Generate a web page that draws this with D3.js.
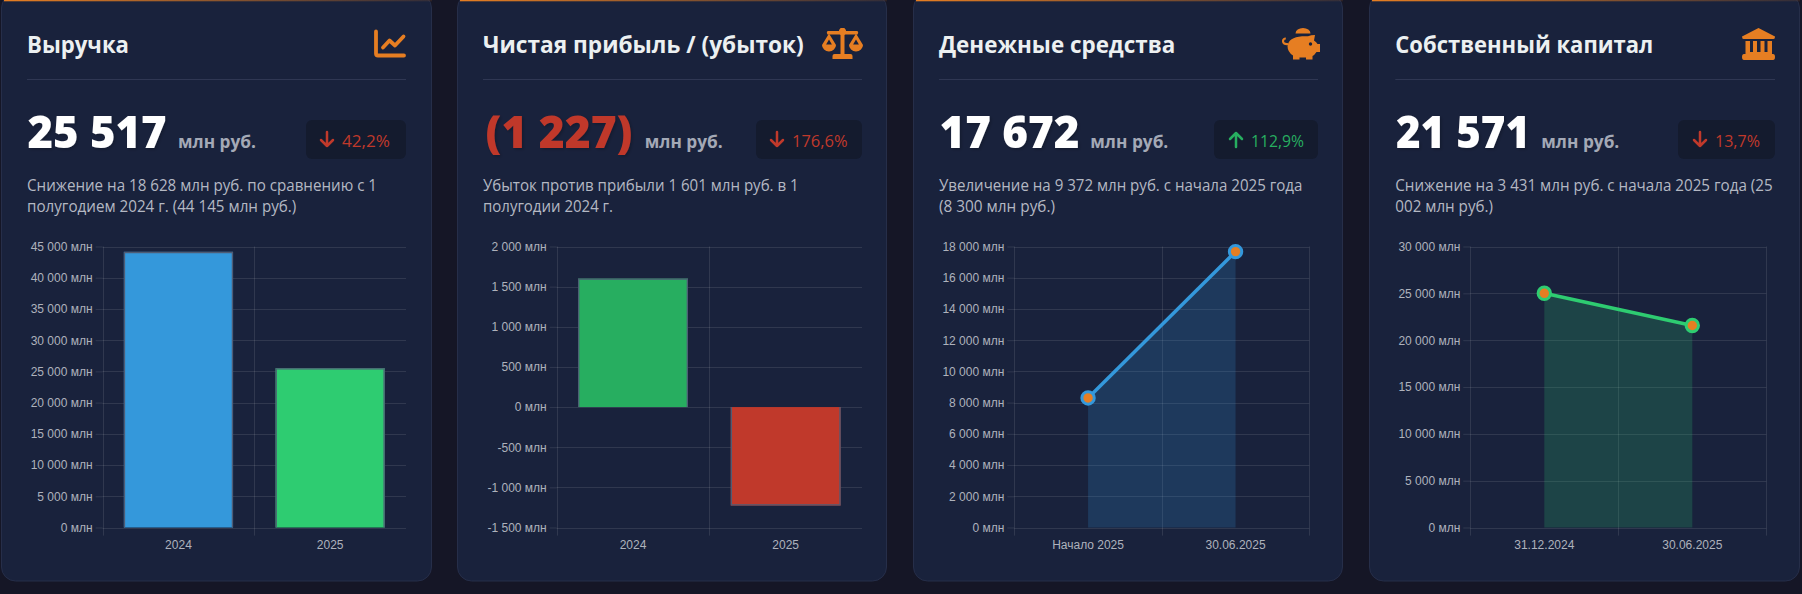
<!DOCTYPE html>
<html><head><meta charset="utf-8">
<script src="https://cdn.jsdelivr.net/npm/d3@7/dist/d3.min.js"></script>
<style>
html,body{margin:0;padding:0;background:#151626;overflow:hidden}
svg{display:block}
text{font-family:"Open Sans",sans-serif}
.axis text{font-family:"Liberation Sans",Arial,sans-serif;font-size:12px;fill:#aeb2bc;-webkit-text-stroke:.35px #aeb2bc}
</style></head><body><svg id="c" width="1802" height="594"></svg>
<script>
const titles=["Выручка","Чистая прибыль / (убыток)","Денежные средства","Собственный капитал"];
const bigValues=["25 517","(1 227)","17 672","21 571"];
const changes=["42,2%","176,6%","112,9%","13,7%"];
const directions=["down","down","up","down"];
const descLines=[
 ["Снижение на 18 628 млн руб. по сравнению с 1","полугодием 2024 г. (44 145 млн руб.)"],
 ["Убыток против прибыли 1 601 млн руб. в 1","полугодии 2024 г."],
 ["Увеличение на 9 372 млн руб. с начала 2025 года","(8 300 млн руб.)"],
 ["Снижение на 3 431 млн руб. с начала 2025 года (25","002 млн руб.)"]];
const revenueLabels=["2024","2025"], revenueValues=[44145,25517];
const profitLabels=["2024","2025"], profitValues=[1601,-1227];
const cashLabels=["Начало 2025","30.06.2025"], cashValues=[8300,17672];
const equityLabels=["31.12.2024","30.06.2025"], equityValues=[25002,21571];
const revenueTicks=d3.range(0,45001,5000), profitTicks=d3.range(-1500,2001,500);
const cashTicks=d3.range(0,18001,2000), equityTicks=d3.range(0,30001,5000);

const ORANGE="#e67e22",RED="#c0392b",GREEN="#27ae60",BRIGHT="#2ecc71",BLUE="#3498db",CARD="#19223c";
const fmt=v=>(v<0?"-":"")+String(Math.abs(v)).replace(/\B(?=(\d{3})+$)/g," ")+" млн";
const svg=d3.select("#c");
const defs=svg.append("defs");
const grad=defs.append("linearGradient").attr("id","tb");
grad.append("stop").attr("offset",0).attr("stop-color",ORANGE);
grad.append("stop").attr("offset",1).attr("stop-color",ORANGE).attr("stop-opacity",.12);
const f=defs.append("filter").attr("id","sh").attr("x","-10%").attr("y","-10%").attr("width","120%").attr("height","130%");
f.append("feDropShadow").attr("dx",1.5).attr("dy",1.5).attr("stdDeviation",1.5).attr("flood-color","#000").attr("flood-opacity",.22);

const cards=[
 {x:1,w:431,tx:27,tr:406,titleW:102,valX:27.5,valW:139,valColor:"#fff",unitX:178,badgeX:306,arrowDx:21,chgW:48,descW:[350,269.3],ax:[102.6,406],type:"bar",labels:revenueLabels,values:revenueValues,ticks:revenueTicks,dom:[0,45000],colors:[BLUE,BRIGHT],rightGrid:false},
 {x:457,w:430,tx:483,tr:862,titleW:320.7,valX:485.5,valW:147,valColor:RED,unitX:644.7,badgeX:756,arrowDx:21,chgW:55.6,descW:[315.7,130],ax:[556.7,862],type:"bar",labels:profitLabels,values:profitValues,ticks:profitTicks,dom:[-1500,2000],colors:[GREEN,RED],rightGrid:false},
 {x:913,w:430,tx:939,tr:1318,titleW:236.3,valX:939.5,valW:140,valColor:"#fff",unitX:1090.3,badgeX:1214,arrowDx:22,chgW:53,descW:[363.3,116],ax:[1014.3,1309.3],type:"line",labels:cashLabels,values:cashValues,ticks:cashTicks,dom:[0,18000],colors:[BLUE],rightGrid:true},
 {x:1369,w:431,tx:1395.3,tr:1775,titleW:258,valX:1396,valW:134,valColor:"#fff",unitX:1541.3,badgeX:1678,arrowDx:22,chgW:45,descW:[377.3,97.7],ax:[1470.3,1766.3],type:"line",labels:equityLabels,values:equityValues,ticks:equityTicks,dom:[0,30000],colors:[BRIGHT],rightGrid:true}
];
const icons=[
 g=>{g.append("path").attr("d","M2 2 V24 Q2 26 4 26 H30").attr("fill","none").attr("stroke",ORANGE).attr("stroke-width",3.8).attr("stroke-linecap","round");
     g.append("path").attr("d","M9 18 L15.5 11 L21 16 L29.5 7").attr("fill","none").attr("stroke",ORANGE).attr("stroke-width",3.8).attr("stroke-linecap","round").attr("stroke-linejoin","round");},
 g=>{g.attr("fill",ORANGE);
     g.append("path").attr("d","M6 3 H36 Q37.5 4.5 36 6.5 H6 Q4.5 4.5 6 3 Z M19 0 H23 V26 H19 Z M11 31 V28 Q11 26 13 26 H29 Q31 26 31 28 V31 Z");
     g.append("circle").attr("cx",21).attr("cy",3.6).attr("r",3.6);
     g.append("path").attr("d","M0.5 17 L7.5 5.5 L14.5 17 A7 6.5 0 0 1 0.5 17 Z M27.5 17 L34.5 5.5 L41.5 17 A7 6.5 0 0 1 27.5 17 Z");
     g.append("path").attr("d","M7.5 11.5 L4.6 16.5 H10.4 Z M34.5 11.5 L31.6 16.5 H37.4 Z").attr("fill",CARD);},
 g=>{g.attr("fill",ORANGE);
     g.append("path").attr("d","M13.5 5.5 A7.5 5.5 0 0 1 28.5 5.5 Z");
     g.append("path").attr("d","M33 7 L32 12.5 Q34.5 14 35.5 16 H38 V24 H34.5 Q32.5 27 30.5 28 V31.5 H24 V29.5 H17.5 V31.5 H11 V27.5 Q5.5 24 5.5 18 Q6.5 9.5 20 8.3 H26 Q29 7 33 7 Z");
     g.append("path").attr("d","M6 16 Q1 16.5 1 13 Q1.2 10.5 3.8 10.5").attr("fill","none").attr("stroke",ORANGE).attr("stroke-width",2.2);
     g.append("circle").attr("cx",28.5).attr("cy",16).attr("r",1.7).attr("fill",CARD);},
 g=>{g.attr("fill",ORANGE);
     g.append("path").attr("d","M16.5 0 L33 8.5 Q33 11 31.5 11 H1.5 Q0 11 0 8.5 Z");
     g.append("path").attr("d","M3.5 13 H8 V24 H11 V13 H15 V24 H18.5 V13 H22.5 V24 H25.5 V13 H30 V26 H3.5 Z");
     g.append("path").attr("d","M2 26 H31 Q33 26 33 29 Q33 32 31 32 H2 Q0 32 0 29 Q0 26 2 26 Z");}
];
const iconPos=[[374,29.5],[821.5,28],[1282,28],[1742,28]];
const fit=(s,w)=>s.attr("textLength",w).attr("lengthAdjust","spacingAndGlyphs");
const Y_TOP=246.5,Y_BOT=527.5;

cards.forEach((c,i)=>{
 const g=svg.append("g");
 g.append("rect").attr("x",c.x+.5).attr("y",-6).attr("width",c.w-1).attr("height",587).attr("rx",14)
  .attr("fill",CARD).attr("stroke","#262e49").attr("stroke-width",1);
 g.append("rect").attr("x",c.x+3).attr("y",0).attr("width",c.w-3).attr("height",1.3).attr("fill","url(#tb)");
 fit(g.append("text").attr("x",c.tx).attr("y",52.5).attr("fill","#ecf0f1").attr("font-size",23).attr("font-weight",700).text(titles[i]),c.titleW);
 const ic=g.append("g").attr("transform",`translate(${iconPos[i]})`);icons[i](ic);
 g.append("rect").attr("x",c.tx).attr("y",79).attr("width",c.tr-c.tx).attr("height",1).attr("fill","#2f3753");
 fit(g.append("text").attr("x",c.valX).attr("y",148).attr("fill",c.valColor).attr("font-size",45).attr("font-weight",800).attr("filter","url(#sh)").text(bigValues[i]),c.valW);
 fit(g.append("text").attr("x",c.unitX).attr("y",148).attr("fill","#a4a9b6").attr("font-size",18).attr("font-weight",700).text("млн руб."),78);
 g.append("rect").attr("x",c.badgeX).attr("y",120).attr("width",c.tr-c.badgeX).attr("height",39).attr("rx",6).attr("fill","#141b2e");
 const col=directions[i]==="up"?GREEN:RED;
 const bc=c.badgeX+c.arrowDx;
 const arrow=g.append("path").attr("fill","none").attr("stroke",col).attr("stroke-width",2.5).attr("stroke-linecap","round").attr("stroke-linejoin","round");
 arrow.attr("d",directions[i]==="up"?`M${bc} 147 V133 M${bc-6} 139 L${bc} 133 L${bc+6} 139`:`M${bc} 132 V146 M${bc-6} 140 L${bc} 146 L${bc+6} 140`);
 fit(g.append("text").attr("x",bc+15).attr("y",146.5).attr("fill",col).attr("font-size",17).text(changes[i]),c.chgW);
 descLines[i].forEach((t,k)=>fit(g.append("text").attr("x",c.tx).attr("y",191+k*21).attr("fill","#b4b8c3").attr("font-size",15.5).text(t),c.descW[k]));

 const [L,R]=c.ax;
 const y=d3.scaleLinear().domain(c.dom).range([Y_BOT,Y_TOP]);
 const x=d3.scaleBand().domain(c.labels).range([L,R]);
 const gridColor="rgba(255,255,255,.1)";
 const yAxis=g.append("g").attr("class","axis").attr("transform",`translate(${L},0)`)
   .call(d3.axisLeft(y).tickValues(c.ticks).tickFormat(fmt).tickSize(7).tickPadding(3));
 yAxis.select(".domain").remove();
 yAxis.selectAll("line").attr("stroke",gridColor);
 const xAxis=g.append("g").attr("class","axis").attr("transform",`translate(0,${Y_BOT})`)
   .call(d3.axisBottom(x).tickSize(0).tickPadding(12.5));
 xAxis.select(".domain").remove();
 const gridG=g.append("g");
 gridG.selectAll(".h").data(c.ticks).join("line").attr("x1",L).attr("x2",R).attr("y1",d=>Math.round(y(d))+.5).attr("y2",d=>Math.round(y(d))+.5).attr("stroke",gridColor);
 const vs=c.rightGrid?[L,(L+R)/2,R]:[L,(L+R)/2];
 gridG.selectAll(".v").data(vs).join("line").attr("x1",d=>Math.round(d)+.5).attr("x2",d=>Math.round(d)+.5).attr("y1",Y_TOP).attr("y2",535.6).attr("stroke",gridColor);

 const rows=c.labels.map((l,k)=>({l,v:c.values[k],k}));
 if(c.type==="bar"){
  const bw=x.bandwidth()*.72, bx=d=>x(d.l)+x.bandwidth()*.14;
  g.selectAll(".bar").data(rows).join("rect")
   .attr("x",bx).attr("width",bw)
   .attr("y",d=>Math.min(y(d.v),y(0))).attr("height",d=>Math.abs(y(d.v)-y(0)))
   .attr("fill",d=>c.colors[d.k]);
  g.selectAll(".edge").data(rows).join("path").attr("fill","none").attr("stroke","#4f5c75").attr("stroke-width",1.3)
   .attr("d",d=>{const a=bx(d)+.65,b=bx(d)+bw-.65,s=d.v>=0?1:-1,t=y(d.v)+.65*s,z=y(0);
      return `M${a} ${z} V${t} H${b} V${z}`;});
 } else {
  const cx=d=>x(d.l)+x.bandwidth()/2;
  const color=c.colors[0];
  g.append("path").datum(rows).attr("fill",color).attr("fill-opacity",.2)
   .attr("d",d3.area().x(cx).y0(y(0)).y1(d=>y(d.v)));
  g.append("path").datum(rows).attr("fill","none").attr("stroke",color).attr("stroke-width",3.5)
   .attr("d",d3.line().x(cx).y(d=>y(d.v)));
  g.selectAll(".pt").data(rows).join("circle").attr("cx",cx).attr("cy",d=>y(d.v)).attr("r",6.2)
   .attr("fill",ORANGE).attr("stroke",color).attr("stroke-width",3);
 }
});
</script></body></html>
